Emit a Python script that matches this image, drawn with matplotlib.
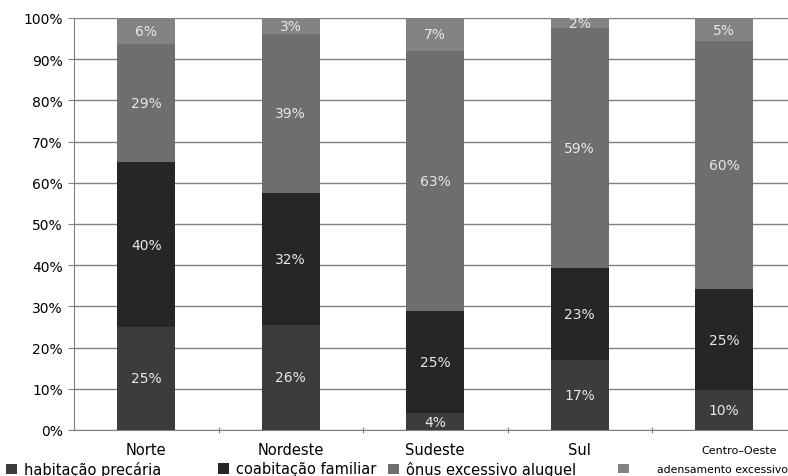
import numpy as np
import matplotlib
matplotlib.use("Agg")
import matplotlib.pyplot as plt
from matplotlib.patches import Patch
from matplotlib.transforms import ScaledTranslation

regioes = ["Norte", "Nordeste", "Sudeste", "Sul", "Centro–Oeste"]
series = ["habitação precária", "coabitação familiar", "ônus excessivo aluguel", "adensamento excessivo"]

precaria = [25.0, 25.5, 4.1, 17.0, 9.7]
coabitacao = [40.0, 32.0, 24.8, 22.3, 24.5]
onus = [28.7, 38.7, 63.2, 58.3, 60.2]
adensamento = [6.3, 3.8, 7.9, 2.4, 5.6]

rotulos = [
    ["25%", "26%", "4%", "17%", "10%"],
    ["40%", "32%", "25%", "23%", "25%"],
    ["29%", "39%", "63%", "59%", "60%"],
    ["6%", "3%", "7%", "2%", "5%"],
]

cores = ["#3c3c3c", "#262626", "#6e6e6e", "#838383"]

plt.rcParams["font.family"] = "DejaVu Sans"

fig = plt.figure(figsize=(7.88, 4.77), dpi=100)
ax = fig.add_axes([74 / 788, 46 / 477, 722.5 / 788, 412 / 477])

x = np.arange(len(regioes))
base = np.zeros(len(regioes))
for vals, cor, labs in zip([precaria, coabitacao, onus, adensamento], cores, rotulos):
    vals = np.array(vals)
    ax.bar(x, vals, bottom=base, width=0.4, color=cor, zorder=3)
    for xi, b, v, t in zip(x, base, vals, labs):
        yc = b + v / 2
        if v < 4.5:
            yc = min(yc, 99.0)
        ax.text(xi, yc, t, ha="center", va="center", color="#e8e8e8",
                fontsize=10, zorder=4)
    base = base + vals

ax.set_xlim(-0.5, len(regioes) - 0.5)
ax.set_ylim(0, 100)
ax.set_yticks(np.arange(0, 101, 10))
ax.set_yticklabels([f"{v}%" for v in range(0, 101, 10)], fontsize=10)
ax.yaxis.grid(True, color="#808080", linewidth=1, zorder=0)
ax.set_axisbelow(True)

for s in ["top", "right"]:
    ax.spines[s].set_visible(False)
ax.spines["left"].set_color("#808080")
ax.spines["bottom"].set_color("#808080")
ax.tick_params(axis="y", length=4, color="#808080", pad=4)

ax.set_xticks(np.arange(len(regioes) - 1) + 0.5)
ax.set_xticklabels([])
ax.tick_params(axis="x", length=5, color="#808080", direction="inout")
ax.set_xticks(x, minor=True)
ax.set_xticklabels(regioes, minor=True, fontsize=10.5)
ax.tick_params(axis="x", which="minor", length=0, pad=9)
ult = ax.get_xticklabels(minor=True)[-1]
ult.set_fontsize(8)
ult.set_ha("left")
ult.set_transform(ult.get_transform() + ScaledTranslation(-0.23, -0.03, fig.dpi_scale_trans))

pos_leg = [(6, 10.5, 0.5), (218, 10.5, 0.5), (388, 10.5, 0.5), (618, 7.8, 2.6)]
for nome, cor, (px, fs, pad) in zip(series, cores, pos_leg):
    h = Patch(facecolor=cor, edgecolor="none")
    fig.legend(handles=[h], labels=[nome], loc="center left",
               bbox_to_anchor=(px / 788, 1 - 470 / 477), frameon=False,
               fontsize=fs, handlelength=0.75 * 10.5 / fs, handleheight=0.75 * 10.5 / fs,
               handletextpad=pad, borderaxespad=0, borderpad=0)

fig.savefig("out.png", dpi=100)
